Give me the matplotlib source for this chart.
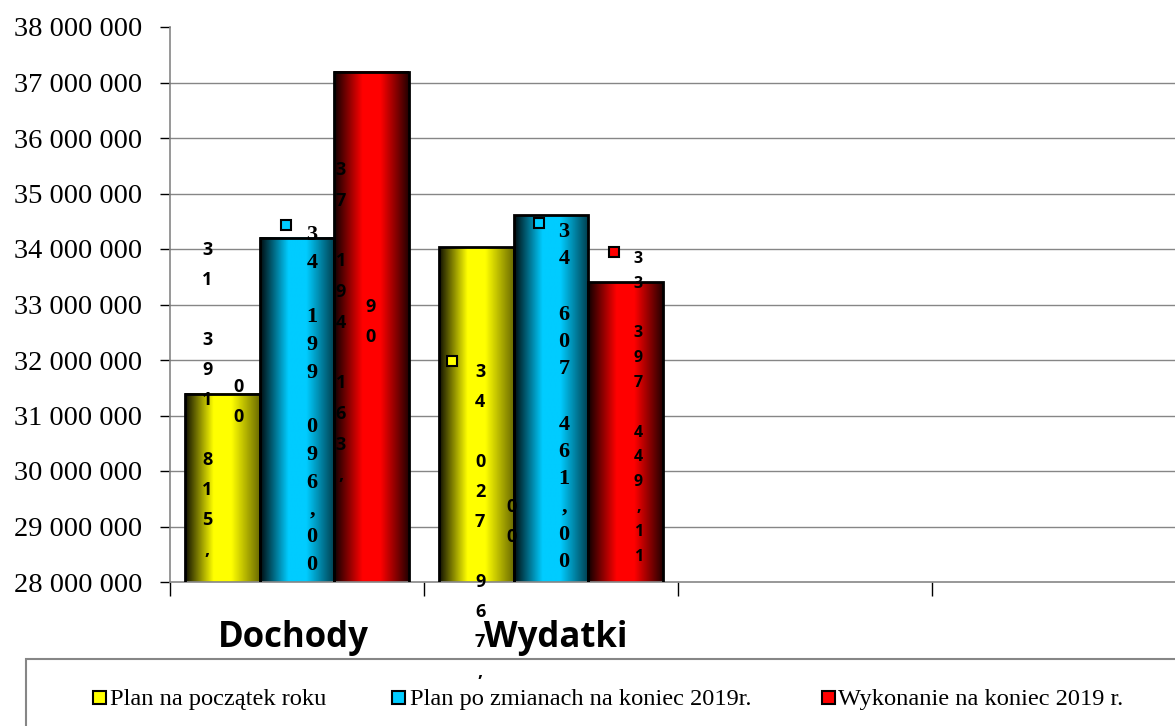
import numpy as np
import matplotlib
matplotlib.use('Agg')
import matplotlib.pyplot as plt
from matplotlib.patches import Rectangle
from matplotlib.colors import to_rgb
from matplotlib.transforms import blended_transform_factory

categories = ['Dochody', 'Wydatki', '', '']
series_names = ['Plan na początek roku', 'Plan po zmianach na koniec 2019r.',
                'Wykonanie na koniec 2019 r.']
plan_start = [31391815.00, 34027967.00]
plan_changed = [34199096.00, 34607461.00]
executed = [37194163.90, 33397449.11]
y_ticks = list(range(28000000, 38000001, 1000000))

colors = ['#ffff00', '#00ccff', '#ff0000']
right_dark = [0.42, 0.3, 0.15]

W, H = 1175, 726
fig = plt.figure(figsize=(W / 100, H / 100), dpi=100)
# plot area in pixels: x 170..1186 (runs past the right edge), y 27..582
ax = fig.add_axes([170 / W, 1 - 582 / H, 1016 / W, 555 / H])

PX_PER_CAT = 254.0
PX_PER_UNIT = 555.0 / 1e7


def py(p):
    # pixel row -> data value
    return 38e6 - (p - 27) / PX_PER_UNIT


def shade(color, dark):
    t = np.linspace(0, 1, 120)
    f = np.interp(t, [0, 0.38, 0.62, 1], [0.06, 1, 1, dark])
    rgb = np.array(to_rgb(color))
    return (f[:, None] * rgb)[None, :, :]


width = 0.295
x = np.arange(len(plan_start))
all_series = [plan_start, plan_changed, executed]
bar_centers = []
for j, vals in enumerate(all_series):
    bars = ax.bar(x + (j - 1) * width, vals, width, facecolor='none',
                  edgecolor='black', linewidth=2, zorder=3)
    row = []
    for b in bars:
        ax.imshow(shade(colors[j], right_dark[j]),
                  extent=[b.get_x(), b.get_x() + b.get_width(), 28e6, b.get_height()],
                  aspect='auto', zorder=2.5, interpolation='bilinear')
        row.append(b.get_x() + b.get_width() / 2)
    bar_centers.append(row)

ax.set_xlim(-0.5, 3.5)
ax.set_ylim(28e6, 38e6)

for t in y_ticks[1:-1]:
    ax.axhline(t, color='#868686', lw=1, zorder=1)

for s in ['top', 'right']:
    ax.spines[s].set_visible(False)
for s in ['left', 'bottom']:
    ax.spines[s].set_color('#868686')
    ax.spines[s].set_linewidth(1.2)

ax.set_yticks(y_ticks)
ax.set_yticklabels(['{:,}'.format(v).replace(',', ' ') for v in y_ticks],
                   family='Liberation Serif', fontsize=20.5)
ax.tick_params(axis='y', direction='out', length=7, width=1, color='black', pad=13)
ax.set_xticks(range(len(categories)))
ax.set_xticklabels([])
ax.tick_params(axis='x', which='major', length=0)
ax.set_xticks(np.arange(-0.5, len(categories)), minor=True)
ax.tick_params(axis='x', which='minor', direction='out', length=10, width=1, color='black')

trans = blended_transform_factory(ax.transData, ax.transAxes)
cat_shift_px = [-4, 5, 0, 0]
for i, c in enumerate(categories):
    if c:
        ax.text(i + cat_shift_px[i] / PX_PER_CAT, (582 - 647) / 555, c, transform=trans,
                ha='center', va='baseline', fontsize=25, fontweight='bold',
                family='Open Sans', zorder=6)


def money(v):
    return '{:,.2f}'.format(v).replace(',', ' ').replace('.', ',')


# label layout per (series, category): column x offset px, top row px, row step px,
# font, size, optional second column (decimals), optional key square
label_layout = {
    (0, 0): dict(dx=-15, top=250, step=30, fam='Open Sans', size=13, split=(16, 387)),
    (1, 0): dict(dx=15, top=235, step=27.5, fam='Liberation Serif', size=16, split=None, key=(-11.5, 225)),
    (2, 0): dict(dx=-31, top=170, step=30.5, fam='Open Sans', size=13, split=(-1, 307)),
    (0, 1): dict(dx=4, top=372, step=30, fam='Open Sans', size=13, split=(35, 507), key=(-24, 361)),
    (1, 1): dict(dx=13, top=232, step=27.5, fam='Liberation Serif', size=16, split=None, key=(-12, 223)),
    (2, 1): dict(dx=12.5, top=259, step=24.8, fam='Open Sans', size=11.5, split=None, key=(-11.5, 252)),
}


def stack(xc, top, step, text, fam, size):
    for k, ch in enumerate(text):
        if ch == ' ':
            continue
        ax.text(xc, py(top + k * step), ch, ha='center', va='center', family=fam,
                fontsize=size, fontweight='bold', zorder=5, clip_on=False)


for (j, i), L in label_layout.items():
    txt = money(all_series[j][i])
    xc = bar_centers[j][i]
    if L['split']:
        head, tail = txt.split(',')
        stack(xc + L['dx'] / PX_PER_CAT, L['top'], L['step'], head + ',', L['fam'], L['size'])
        stack(xc + L['split'][0] / PX_PER_CAT, L['split'][1], L['step'], tail, L['fam'], L['size'])
    else:
        stack(xc + L['dx'] / PX_PER_CAT, L['top'], L['step'], txt, L['fam'], L['size'])
    if L.get('key'):
        kx, ky = L['key']
        ax.plot([xc + kx / PX_PER_CAT], [py(ky)], marker='s', ms=7, mfc=colors[j],
                mec='black', mew=1.5, zorder=6, clip_on=False)

# legend box, running off the right and bottom edges
fig.add_artist(Rectangle((26 / W, -0.1), 1.2, (1 - 659 / H) + 0.1, transform=fig.transFigure,
                         fill=False, edgecolor='#868686', lw=1.5))
legend_marker_px = [93, 392, 822]
legend_text_px = [110, 410, 838]
for j, name in enumerate(series_names):
    fig.add_artist(Rectangle((legend_marker_px[j] / W, 1 - 704 / H), 13 / W, 13 / H,
                             transform=fig.transFigure, facecolor=colors[j],
                             edgecolor='black', lw=1.5))
    fig.text(legend_text_px[j] / W, 1 - 705 / H, name, family='Liberation Serif',
             fontsize=17.6, va='baseline', ha='left')

fig.savefig('out.png', dpi=100)
